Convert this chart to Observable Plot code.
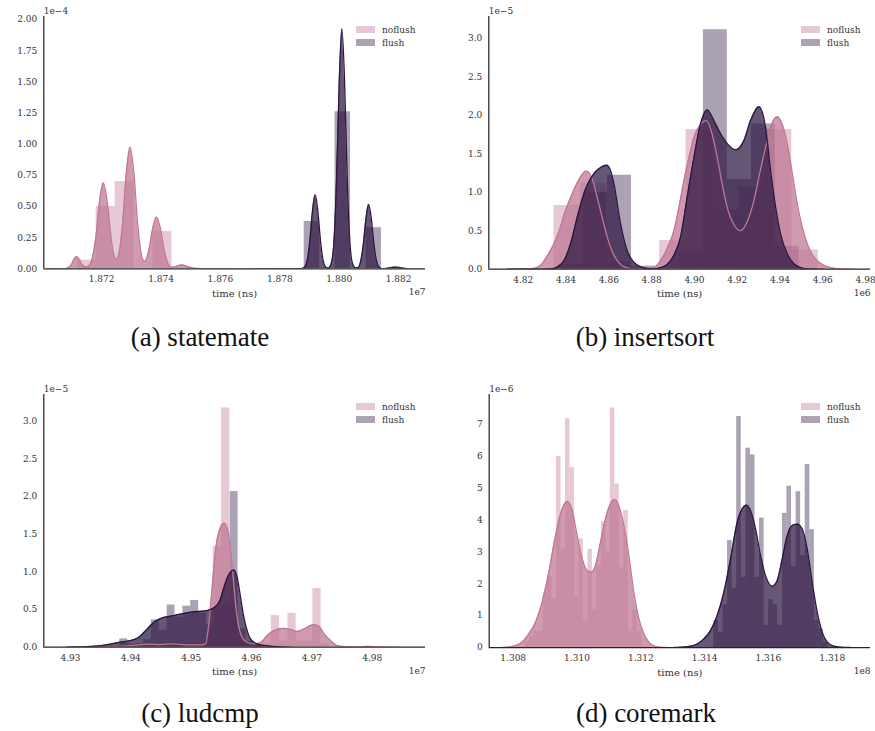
<!DOCTYPE html>
<html><head><meta charset="utf-8">
<script src="https://cdn.jsdelivr.net/npm/d3@7"></script>
<script src="https://cdn.jsdelivr.net/npm/@observablehq/plot@0.6"></script>
<style>
body{margin:0;background:#fff;}
#root{position:relative;width:875px;height:731px;overflow:hidden;background:#fff;}
.panel{position:absolute;}
.panel text{font-family:"DejaVu Serif","Liberation Serif",serif;}
.legend{position:absolute;font-family:"DejaVu Serif","Liberation Serif",serif;font-size:9px;color:#333;}
.legend .row{display:flex;align-items:center;height:13.3px;}
.sw{width:19px;height:7px;margin-right:7px;}
.cap{position:absolute;width:300px;text-align:center;font-family:"Liberation Serif","DejaVu Serif",serif;font-size:27px;color:#111;line-height:30px;white-space:nowrap;}
</style></head><body><div id="root"></div>
<script>
// ---------- labels ----------
const seriesNames = ["noflush", "flush"];
const captions = ["(a) statemate", "(b) insertsort", "(c) ludcmp", "(d) coremark"];
const yOffsetLabels = ["1e\u22124", "1e\u22125", "1e\u22125", "1e\u22126"];
const xOffsetLabels = ["1e7", "1e6", "1e7", "1e8"];
const xAxisTitle = "time (ns)";

// ---------- (a) statemate : x in 1e7 ns, density in 1e-4 ----------
const aXTicks = [1.872, 1.874, 1.876, 1.878, 1.880, 1.882];
const aYTicks = [0, 0.25, 0.5, 0.75, 1.0, 1.25, 1.5, 1.75, 2.0];
const aNoflushBinStart = 1.87118, aNoflushBinWidth = 0.000638;
const aNoflushHist = [0.07, 0.50, 0.70, 0.00, 0.30];
const aFlushBinStart = 1.87882, aFlushBinWidth = 0.00052;
const aFlushHist = [0.38, 0.00, 1.26, 0.00, 0.33];
const aNoflushKde = [[1.8702,0],[1.8706,0.001],[1.87081,0.003],[1.8709,0.012],[1.87099,0.037],[1.87107,0.076],[1.87116,0.098],[1.87125,0.076],[1.87133,0.038],[1.87142,0.018],[1.8715,0.015],[1.87156,0.02],[1.87168,0.08],[1.87181,0.26],[1.87193,0.54],[1.87206,0.69],[1.87219,0.54],[1.87231,0.265],[1.87244,0.091],[1.87251,0.073],[1.87258,0.117],[1.87271,0.37],[1.87283,0.76],[1.87296,0.975],[1.87309,0.76],[1.87321,0.37],[1.87334,0.114],[1.8734,0.068],[1.87346,0.06],[1.87359,0.15],[1.87372,0.324],[1.87385,0.415],[1.87398,0.324],[1.8741,0.156],[1.87423,0.046],[1.87435,0.012],[1.8745,0.018],[1.8747,0.032],[1.8749,0.018],[1.8751,0.005],[1.8754,0.002],[1.876,0.002],[1.8765,0]];
const aFlushKde = [[1.877,0],[1.8775,0.001],[1.8779,0.002],[1.8784,0.002],[1.87874,0.002],[1.87883,0.012],[1.87892,0.065],[1.87901,0.223],[1.8791,0.463],[1.87919,0.594],[1.87928,0.463],[1.87937,0.223],[1.87946,0.065],[1.87955,0.013],[1.87964,0.006],[1.87973,0.04],[1.87982,0.21],[1.87991,0.72],[1.88,1.5],[1.88009,1.925],[1.88018,1.5],[1.88027,0.72],[1.88036,0.21],[1.88045,0.04],[1.88054,0.008],[1.88063,0.01],[1.88072,0.057],[1.88081,0.194],[1.8809,0.402],[1.88099,0.516],[1.88108,0.402],[1.88117,0.194],[1.88126,0.057],[1.88135,0.01],[1.88144,0.002],[1.8816,0.004],[1.88175,0.01],[1.88189,0.013],[1.88203,0.01],[1.8822,0.003],[1.8824,0]];

// ---------- (b) insertsort : x in 1e6 ns, density in 1e-5 ----------
const bXTicks = [4.82, 4.84, 4.86, 4.88, 4.90, 4.92, 4.94, 4.96, 4.98];
const bYTicks = [0, 0.5, 1.0, 1.5, 2.0, 2.5, 3.0];
const bNoflushBinStart = 4.83433, bNoflushBinWidth = 0.012355;
const bNoflushHist = [0.827, 1.117, 0.10, 0.00, 0.372, 1.814, 0.775, 1.065, 1.814, 0.249];
const bFlushBinStart = 4.83698, bFlushBinWidth = 0.0112;
const bFlushHist = [0.06, 1.00, 1.22, 0.04, 0.00, 0.21, 3.11, 1.165, 1.887, 0.294];
const bNoflushKde = [[4.81252,0],[4.82031,0.002],[4.82499,0.01],[4.8281,0.05],[4.83122,0.17],[4.83433,0.33],[4.83745,0.55],[4.83901,0.7],[4.84056,0.82],[4.84368,1.03],[4.8468,1.2],[4.84944,1.273],[4.85225,1.17],[4.85459,0.93],[4.85692,0.67],[4.85926,0.42],[4.8616,0.23],[4.86393,0.11],[4.86627,0.045],[4.86861,0.017],[4.87172,0.005],[4.87484,0.003],[4.87796,0.005],[4.88107,0.02],[4.88419,0.11],[4.8873,0.27],[4.89042,0.5],[4.89276,0.8],[4.89509,1.15],[4.89743,1.45],[4.89977,1.71],[4.90288,1.88],[4.90553,1.93],[4.90834,1.75],[4.91067,1.45],[4.91301,1.1],[4.91535,0.8],[4.91846,0.58],[4.92158,0.5],[4.92469,0.62],[4.92781,0.89],[4.93093,1.3],[4.93404,1.67],[4.93638,1.9],[4.93872,1.98],[4.94105,1.88],[4.94339,1.63],[4.94573,1.25],[4.94806,0.85],[4.9504,0.55],[4.95274,0.33],[4.95507,0.19],[4.95741,0.11],[4.96052,0.05],[4.96364,0.02],[4.96832,0.005],[4.97455,0]];
const bFlushKde = [[4.81252,0],[4.8281,0.002],[4.83433,0.01],[4.83589,0.03],[4.83901,0.11],[4.84212,0.33],[4.84524,0.675],[4.84835,0.98],[4.85303,1.24],[4.85614,1.32],[4.85895,1.35],[4.86082,1.28],[4.86238,1.11],[4.86549,0.59],[4.86861,0.24],[4.87172,0.09],[4.87484,0.03],[4.87796,0.01],[4.88107,0.005],[4.88419,0.02],[4.8873,0.06],[4.89042,0.18],[4.89354,0.42],[4.89665,0.94],[4.89977,1.45],[4.90288,1.89],[4.906,2.07],[4.90911,1.93],[4.91223,1.76],[4.91535,1.63],[4.91924,1.55],[4.92314,1.67],[4.92625,1.93],[4.93015,2.11],[4.93326,1.84],[4.9356,1.28],[4.93794,0.81],[4.94027,0.46],[4.94339,0.2],[4.9465,0.07],[4.94962,0.02],[4.95274,0.005],[4.96052,0]];

// ---------- (c) ludcmp : x in 1e7 ns, density in 1e-5 ----------
const cXTicks = [4.93, 4.94, 4.95, 4.96, 4.97, 4.98];
const cYTicks = [0, 0.5, 1.0, 1.5, 2.0, 2.5, 3.0];
const cNoflushBinStart = 4.94264, cNoflushBinWidth = 0.0013757;
const cNoflushHist = [0.02, 0.03, 0.03, 0.06, 0.03, 0.05, 0.03, 0.08, 1.336, 3.177, 0.50, 0.05, 0.00, 0.02, 0.05, 0.42, 0.08, 0.45, 0.08, 0.08, 0.78, 0.05, 0, 0, 0, 0, 0.01];
const cFlushBinStart = 4.93818, cFlushBinWidth = 0.0013061;
const cFlushHist = [0.11, 0.04, 0.05, 0.10, 0.363, 0.22, 0.56, 0.40, 0.545, 0.62, 0.45, 0.30, 0.52, 0.55, 2.066, 0.24, 0.08, 0.03];
const cNoflushKde = [[4.92945,0],[4.93497,0.003],[4.93818,0.01],[4.9405,0.025],[4.94271,0.04],[4.94492,0.035],[4.94713,0.045],[4.94934,0.03],[4.95155,0.03],[4.95238,0.044],[4.95293,0.31],[4.95348,0.8],[4.95403,1.28],[4.95486,1.59],[4.95547,1.646],[4.95608,1.55],[4.95652,1.28],[4.95696,0.93],[4.95735,0.575],[4.9579,0.265],[4.95845,0.13],[4.95928,0.066],[4.96039,0.045],[4.96149,0.06],[4.9626,0.155],[4.9637,0.22],[4.96536,0.25],[4.96646,0.235],[4.96757,0.21],[4.96923,0.265],[4.97033,0.3],[4.97116,0.28],[4.97199,0.18],[4.97309,0.09],[4.9742,0.02],[4.97586,0.005],[4.97751,0.003],[4.97917,0.01],[4.98083,0.004],[4.9847,0]];
const cFlushKde = [[4.92945,0.002],[4.93276,0.008],[4.93497,0.02],[4.93818,0.066],[4.9405,0.1],[4.9416,0.15],[4.94271,0.24],[4.94381,0.33],[4.94492,0.38],[4.94713,0.42],[4.94989,0.465],[4.95265,0.487],[4.95431,0.56],[4.95486,0.64],[4.95541,0.79],[4.95597,0.92],[4.95652,0.996],[4.95707,1.027],[4.95762,0.93],[4.95818,0.664],[4.95873,0.4],[4.95928,0.22],[4.95983,0.11],[4.96094,0.044],[4.9626,0.018],[4.96481,0.005],[4.96646,0]];

// ---------- (d) coremark : x in 1e8 ns, density in 1e-6 ----------
const dXTicks = [1.308, 1.310, 1.312, 1.314, 1.316, 1.318];
const dYTicks = [0, 1, 2, 3, 4, 5, 6, 7];
const dNoflushBinStart = 1.308375, dNoflushBinWidth = 0.0001405;
const dNoflushHist = [0.17, 0.35, 0.5, 0.5, 1.71, 2.22, 1.52, 5.98, 3.07, 7.16, 5.63, 1.57, 3.40, 0.85, 3.07, 1.19, 2.57, 3.94, 3.0, 7.50, 5.12, 2.5, 4.29, 0.5, 1.19, 0.5];
const dFlushBinStart = 1.31429, dFlushBinWidth = 0.0001432;
const dFlushHist = [0.845, 0.48, 1.34, 3.35, 1.86, 7.23, 2.2, 6.24, 6.03, 2.2, 4.05, 0.69, 1.50, 1.34, 0.69, 4.2, 5.05, 2.53, 4.88, 2.88, 5.73, 3.69, 0.845, 0.58, 0.17];
const dNoflushKde = [[1.307603,0],[1.307812,0.01],[1.308073,0.06],[1.308282,0.17],[1.308491,0.43],[1.3087,0.79],[1.308909,1.42],[1.309118,2.36],[1.309327,3.5],[1.309536,4.34],[1.309693,4.57],[1.30985,4.29],[1.310006,3.5],[1.310163,2.77],[1.31032,2.41],[1.310456,2.36],[1.310581,2.57],[1.310738,3.3],[1.310894,4.03],[1.311051,4.5],[1.311177,4.63],[1.311312,4.44],[1.311469,3.82],[1.311626,2.88],[1.311783,1.73],[1.311939,0.9],[1.312096,0.43],[1.312253,0.17],[1.312357,0.08],[1.3126,0.01],[1.312828,0]];
const dFlushKde = [[1.313037,0],[1.313246,0.01],[1.313559,0.04],[1.313768,0.11],[1.313977,0.27],[1.314186,0.53],[1.314395,1.0],[1.314604,1.73],[1.314813,2.77],[1.315022,3.92],[1.315179,4.34],[1.315315,4.46],[1.31544,4.29],[1.315597,3.71],[1.315753,2.88],[1.31591,2.25],[1.316119,1.92],[1.316276,2.1],[1.316433,2.77],[1.316589,3.5],[1.316746,3.82],[1.316903,3.86],[1.31706,3.71],[1.317216,3.09],[1.317373,2.04],[1.31753,1.11],[1.317686,0.48],[1.317843,0.17],[1.318052,0.04],[1.318261,0.01],[1.318575,0]];

// ---------- colours ----------
const noflushColor = "#c07896";
const flushColor = "#2d1641";
const serifFont = "'DejaVu Serif', 'Liberation Serif', serif";

// ---------- layout (per panel) ----------
const panels = [
  {left:0,   top:0,   mL:43.3, mT:16, mB:36.7, xDomain:[1.870054,1.882904], yDomain:[0,2.024], xTicks:aXTicks, yTicks:aYTicks, xf:".3f", yf:".2f",
   nb:[aNoflushBinStart,aNoflushBinWidth,aNoflushHist], fb:[aFlushBinStart,aFlushBinWidth,aFlushHist], nk:aNoflushKde, fk:aFlushKde, legTop:23, legLeft:356, capX:200, capY:337},
  {left:445, top:0,   mL:43.3, mT:16, mB:36.3, xDomain:[4.8039,4.9823], yDomain:[0,3.282], xTicks:bXTicks, yTicks:bYTicks, xf:".2f", yf:".1f",
   nb:[bNoflushBinStart,bNoflushBinWidth,bNoflushHist], fb:[bFlushBinStart,bFlushBinWidth,bFlushHist], nk:bNoflushKde, fk:bFlushKde, legTop:23, legLeft:801, capX:645, capY:337},
  {left:0,   top:380, mL:43.3, mT:14, mB:38.3, xDomain:[4.92558,4.98883], yDomain:[0,3.355], xTicks:cXTicks, yTicks:cYTicks, xf:".2f", yf:".1f",
   nb:[cNoflushBinStart,cNoflushBinWidth,cNoflushHist], fb:[cFlushBinStart,cFlushBinWidth,cFlushHist], nk:cNoflushKde, fk:cFlushKde, legTop:400, legLeft:356, capX:200, capY:713},
  {left:445, top:380, mL:43.7, mT:14, mB:38, xDomain:[1.307248,1.3192], yDomain:[0,7.92], xTicks:dXTicks, yTicks:dYTicks, xf:".3f", yf:"d",
   nb:[dNoflushBinStart,dNoflushBinWidth,dNoflushHist], fb:[dFlushBinStart,dFlushBinWidth,dFlushHist], nk:dNoflushKde, fk:dFlushKde, legTop:400, legLeft:801, capX:646, capY:713}
];

const root = document.getElementById("root");
const toBins = ([start, width, hs]) => hs.map((h, i) => ({x1: start + i * width, x2: start + (i + 1) * width, y: h}));
const W = 430, H = 305;

panels.forEach((p, idx) => {
  const nBins = toBins(p.nb), fBins = toBins(p.fb);
  const kx = d => d[0], ky = d => d[1];
  const chart = Plot.plot({
    width: W, height: H,
    marginLeft: p.mL, marginRight: 5, marginTop: p.mT, marginBottom: p.mB,
    style: {fontFamily: serifFont, fontSize: "9px", color: "#333", background: "transparent", overflow: "visible"},
    x: {domain: p.xDomain},
    y: {domain: p.yDomain},
    marks: [
      Plot.rectY(nBins, {x1: "x1", x2: "x2", y: "y", fill: noflushColor, fillOpacity: 0.4, inset: 0, clip: true}),
      Plot.rectY(fBins, {x1: "x1", x2: "x2", y: "y", fill: flushColor, fillOpacity: 0.4, inset: 0, clip: true}),
      Plot.areaY(p.nk, {x: kx, y: ky, fill: noflushColor, fillOpacity: 0.75, curve: "monotone-x", clip: true}),
      Plot.areaY(p.fk, {x: kx, y: ky, fill: flushColor, fillOpacity: 0.72, curve: "monotone-x", clip: true}),
      Plot.lineY(p.nk, {x: kx, y: ky, stroke: noflushColor, strokeWidth: 1.3, curve: "monotone-x", clip: true}),
      Plot.lineY(p.fk, {x: kx, y: ky, stroke: flushColor, strokeWidth: 1.3, curve: "monotone-x", clip: true}),
      Plot.axisX({ticks: p.xTicks, tickFormat: d3.format(p.xf), tickSize: 0, tickPadding: 7, label: null, fill: "#333", fontFamily: serifFont, fontSize: 9}),
      Plot.axisY({ticks: p.yTicks, tickFormat: d3.format(p.yf), tickSize: 0, tickPadding: 6.5, label: null, fill: "#333", fontFamily: serifFont, fontSize: 9}),
      Plot.ruleX([p.xDomain[0]], {stroke: "#262626", strokeWidth: 1.25}),
      Plot.ruleY([p.yDomain[0]], {stroke: "#262626", strokeWidth: 1.25}),
      Plot.text([xAxisTitle], {frameAnchor: "bottom", dy: 25, lineAnchor: "middle", fontSize: 10, fill: "#333", fontFamily: serifFont}),
      Plot.text([xOffsetLabels[idx]], {frameAnchor: "bottom-right", dy: 23.7, textAnchor: "end", lineAnchor: "middle", fontSize: 9, fill: "#333", fontFamily: serifFont}),
      Plot.text([yOffsetLabels[idx]], {frameAnchor: "top-left", dy: -5, textAnchor: "start", lineAnchor: "middle", fontSize: 9, fill: "#333", fontFamily: serifFont})
    ]
  });
  chart.classList.add("panel");
  chart.style.left = p.left + "px";
  chart.style.top = p.top + "px";
  root.appendChild(chart);

  // legend
  const leg = document.createElement("div");
  leg.className = "legend";
  leg.style.left = p.legLeft + "px";
  leg.style.top = p.legTop + "px";
  [[seriesNames[0], "rgba(192,120,150,0.4)"], [seriesNames[1], "rgba(45,22,65,0.4)"]].forEach(([name, col]) => {
    const row = document.createElement("div"); row.className = "row";
    const sw = document.createElement("div"); sw.className = "sw"; sw.style.background = col;
    const tx = document.createElement("span"); tx.textContent = name;
    row.appendChild(sw); row.appendChild(tx); leg.appendChild(row);
  });
  root.appendChild(leg);

  // caption
  const cap = document.createElement("div");
  cap.className = "cap";
  cap.textContent = captions[idx];
  cap.style.left = (p.capX - 150) + "px";
  cap.style.top = (p.capY - 15) + "px";
  root.appendChild(cap);
});
</script></body></html>
